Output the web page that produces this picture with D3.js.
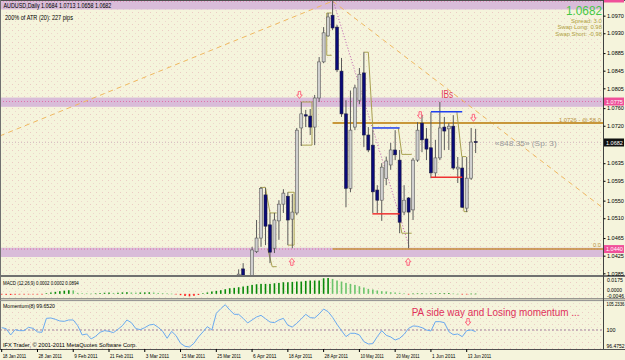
<!DOCTYPE html>
<html lang="en">
<head>
<meta charset="utf-8">
<title>AUDUSD Daily</title>
<script src="https://d3js.org/d3.v7.min.js"></script>
<style>
body { margin: 0; background: #f5f4dc; }
svg { display: block; font-family: "Liberation Sans", Arial, sans-serif; }
</style>
</head>
<body>
<div id="chart"></div>
<script>
// ---- data ----
var dateLabels = ["18 Jan 2011", "28 Jan 2011", "9 Feb 2011", "21 Feb 2011", "3 Mar 2011", "15 Mar 2011",
    "25 Mar 2011", "6 Apr 2011", "18 Apr 2011", "28 Apr 2011", "10 May 2011", "20 May 2011", "1 Jun 2011", "13 Jun 2011"];
var dateLabelBars = [0, 8, 16, 24, 32, 40, 48, 56, 64, 72, 80, 88, 96, 104];

// candles that show in the price window start at bar 53 (older ones sit below 1.0385)
var candleFirstBar = 53;
var opens  = [1.0355,1.0395,1.0368,1.0362,1.0434,1.0465,1.0563,1.0495,1.0442,1.0504,1.0542,1.0560,1.0508,1.0522,1.0715,1.0745,1.0742,1.0717,1.0783,1.0865,1.0924,1.0971,1.0944,1.0844,1.0747,1.0578,1.0717,1.0778,1.0840,1.0699,1.0676,1.0574,1.0551,1.0600,1.0631,1.0665,1.0642,1.0524,1.0556,1.0529,1.0642,1.0726,1.0690,1.0670,1.0613,1.0647,1.0717,1.0713,1.0719,1.0622,1.0624,1.0533,1.0601,1.0684];
var highs  = [1.0394,1.0408,1.0378,1.0445,1.0506,1.0581,1.0579,1.0522,1.0522,1.0551,1.0576,1.0569,1.0565,1.0715,1.0774,1.0756,1.0758,1.0790,1.0876,1.0944,1.0976,1.1012,1.0949,1.0874,1.0778,1.0800,1.0813,1.0851,1.0887,1.0717,1.0712,1.0585,1.0635,1.0650,1.0681,1.0710,1.0665,1.0585,1.0558,1.0647,1.0728,1.0744,1.0715,1.0751,1.0688,1.0774,1.0740,1.0726,1.0744,1.0649,1.0649,1.0649,1.0715,1.0713];
var lows   = [1.0340,1.0355,1.0322,1.0350,1.0431,1.0445,1.0449,1.0408,1.0431,1.0461,1.0522,1.0449,1.0442,1.0517,1.0674,1.0717,1.0699,1.0676,1.0774,1.0862,1.0922,1.0937,1.0842,1.0740,1.0535,1.0569,1.0710,1.0769,1.0672,1.0660,1.0522,1.0522,1.0504,1.0585,1.0620,1.0642,1.0476,1.0517,1.0442,1.0506,1.0638,1.0660,1.0642,1.0601,1.0603,1.0642,1.0665,1.0665,1.0620,1.0590,1.0533,1.0524,1.0597,1.0658];
var closes = [1.0383,1.0370,1.0360,1.0438,1.0465,1.0578,1.0492,1.0433,1.0506,1.0542,1.0567,1.0506,1.0524,1.0710,1.0747,1.0742,1.0717,1.0783,1.0865,1.0931,1.0967,1.0942,1.0847,1.0747,1.0578,1.0710,1.0806,1.0837,1.0699,1.0665,1.0570,1.0551,1.0626,1.0640,1.0665,1.0654,1.0501,1.0551,1.0524,1.0642,1.0710,1.0688,1.0667,1.0613,1.0647,1.0715,1.0708,1.0719,1.0624,1.0626,1.0535,1.0601,1.0683,1.0682];

var macdValues = [-0.0008,-0.0010,-0.0012,-0.0009,-0.0006,-0.0004,-0.0003,-0.0004,-0.0006,-0.0002,
    0.0007,0.0015,0.0022,0.0029,0.0035,0.0040,0.0038,0.0011,0.0006,0.0004,
    0.0003,0.0004,0.0008,0.0012,0.0014,0.0010,0.0012,0.0016,0.0018,0.0015,
    0.0013,0.0015,0.0016,0.0017,0.0014,0.0010,0.0008,0.0004,0.0002,-0.0006,
    -0.0015,-0.0024,-0.0028,-0.0022,-0.0012,0.0005,0.0015,0.0026,0.0033,0.0040,
    0.0051,0.0062,0.0066,0.0073,0.0081,0.0088,0.0099,0.0106,0.0110,0.0110,
    0.0110,0.0117,0.0121,0.0128,0.0128,0.0132,0.0136,0.0136,0.0143,0.0147,
    0.0147,0.0147,0.0172,0.0175,0.0165,0.0147,0.0136,0.0121,0.0110,0.0099,
    0.0084,0.0070,0.0055,0.0048,0.0037,0.0029,0.0026,0.0018,0.0015,0.0011,
    0.0004,-0.0005,0.0003,0.0004,0.0004,0.0003,0.0004,0.0005,0.0006,0.0007,
    0.0008,0.0003,0.0001,-0.0002,-0.0004,0.0002,0.0002];

var momentumValues = [100.48,100.28,98.97,100.07,99.86,99.86,100.55,100.34,99.59,99.52,
    102.41,102.48,102.21,101.86,101.79,102.07,102.07,100.90,98.97,99.17,
    98.14,98.69,99.52,99.86,99.72,99.45,100.14,100.90,102.07,101.52,
    100.28,100.07,100.48,101.03,101.17,100.55,99.72,98.28,99.72,98.83,
    97.24,96.62,96.48,97.24,98.55,99.59,100.69,100.00,103.45,104.41,
    105.23,104.14,103.24,103.24,102.41,101.45,102.07,102.69,103.03,102.34,
    101.65,101.52,102.07,102.41,100.97,100.62,101.38,102.28,103.24,102.55,
    102.48,103.31,104.34,103.79,102.62,101.17,99.86,98.62,99.31,99.31,
    98.97,97.59,97.10,97.17,98.62,99.86,98.90,98.55,97.93,98.28,
    99.10,100.34,100.83,100.76,100.48,100.00,99.79,101.72,101.72,101.52,
    99.65,99.03,99.17,98.62,99.86,100.00,99.65];

var priceTicks = [1.0970, 1.0930, 1.0885, 1.0845, 1.0805, 1.0760, 1.0720, 1.0635, 1.0595, 1.0550, 1.0510, 1.0465, 1.0425, 1.0385];
var macdTicks = ["0.0175", "0.0000", "-0.0046"];
var momentumTicks = [105.2336, 100, 96.4752];

// zones (price bands) and levels
var zoneTops    = [1.1003, 1.0784, 1.0443];
var zoneBottoms = [1.0984, 1.0763, 1.0422];
var zoneLines   = [1.1003, 1.0775, 1.0440];
var fibLevels   = [1.0726, 1.0440];
var fibLabels   = ["1.0726 - @ 58.0", "0.0"];
var fibStartBar = 74;

// trend lines [bar, price]
var dashTrendA = [[-0.4, 1.0697], [74, 1.1003]];
var dashTrendB = [[74, 1.1003], [134.5, 1.0533]];
var dotTrend   = [[74, 1.1008], [91.3, 1.0440]];

// inside bar highs / lows
var ibHighs = [[82.9, 89, 1.0715], [96, 103, 1.0752]];
var ibLows  = [[82.9, 89, 1.0520], [96, 103, 1.0603]];

// olive range lines [bar, price]
var oliveLines = [
    [[64, 1.0569], [65.4, 1.0569], [65.4, 1.0449], [64, 1.0449]],
    [[67, 1.0774], [69.4, 1.0774], [69.4, 1.0676], [67, 1.0676]],
    [[73.8, 1.0976], [72.7, 1.0976], [72.7, 1.0880], [73.8, 1.0880]],
    [[57.8, 1.0580], [59, 1.0580], [60, 1.0522], [61.5, 1.0522]],
    [[59.5, 1.0440], [60.5, 1.0400], [61.5, 1.0400]],
    [[81, 1.0887], [82, 1.0887], [83, 1.0715]],
    [[88.7, 1.0715], [89.5, 1.0655], [91.7, 1.0655]],
    [[88.7, 1.0520], [89.5, 1.0476], [91.7, 1.0476]],
    [[101.8, 1.0752], [102.9, 1.0650], [103.9, 1.0650]],
    [[102.6, 1.0604], [103.4, 1.0525], [104.2, 1.0525]]
];

var downArrows = [[66.6, 1.0790], [93.6, 1.0744], [105.5, 1.0738]];
var upArrows   = [[64.9, 1.0411], [90.9, 1.0411]];

// ---- layout ----
var W = 625, H = 360, axisX = 603;
var pricePane = {top: 0, bottom: 275};
var momPane = {top: 301, bottom: 349};

var svg = d3.select("#chart").append("svg")
    .attr("width", W).attr("height", H);

var defs = svg.append("defs");
var pat = defs.append("pattern").attr("id", "dots")
    .attr("width", 6).attr("height", 6).attr("patternUnits", "userSpaceOnUse");
pat.append("rect").attr("x", 0).attr("y", 0).attr("width", 1).attr("height", 1).attr("fill", "#eccac4");
pat.append("rect").attr("x", 3).attr("y", 3).attr("width", 1).attr("height", 1).attr("fill", "#eed6cc");

defs.append("clipPath").attr("id", "clipPrice").append("rect")
    .attr("x", 0).attr("y", pricePane.top).attr("width", axisX).attr("height", pricePane.bottom - pricePane.top);
defs.append("clipPath").attr("id", "clipMom").append("rect")
    .attr("x", 0).attr("y", momPane.top).attr("width", axisX).attr("height", momPane.bottom - momPane.top);

svg.append("rect").attr("width", W).attr("height", H).attr("fill", "#f5f4dc");
svg.append("rect").attr("width", axisX).attr("height", momPane.bottom).attr("fill", "url(#dots)");

// scales
var x = d3.scaleLinear().domain([0, 104]).range([1.7, 466.7]);
var y = d3.scaleLinear().domain([1.0385, 1.0845]).range([273.3, 70.7]);
var yMacd = d3.scaleLinear().domain([-0.0046, 0.0175]).range([298, 278]);
var yMom = d3.scaleLinear().domain([96.4752, 105.2336]).range([347, 304.7]);

// squeezed MT4 style text: squash the glyphs to the width measured on the picture
function label(g, str, px, py, size, width, color, anchor) {
    var t = g.append("text")
        .attr("font-size", size)
        .attr("fill", color)
        .text(str);
    var natural = t.node().getComputedTextLength();
    var k = width ? width / natural : 1;
    t.attr("x", anchor === "end" ? -natural : 0).attr("y", 0)
        .attr("transform", "translate(" + px + "," + py + ") scale(" + k + ",1)");
    return t;
}

// hollow block arrow, dir 1 = down, -1 = up
function arrow(g, px, py, dir) {
    var s = dir;
    var pts = [[-1.2, -3.5 * s], [1.2, -3.5 * s], [1.2, 0], [2.8, 0], [0, 3.5 * s], [-2.8, 0], [-1.2, 0]];
    g.append("path")
        .attr("d", d3.line()(pts.map(function (p) { return [px + p[0], py + p[1]]; })) + "Z")
        .attr("fill", "none").attr("stroke", "#ff5a78").attr("stroke-width", 0.9);
}

// ---- price window ----
var gp = svg.append("g").attr("clip-path", "url(#clipPrice)");

// zones
zoneTops.forEach(function (t, i) {
    gp.append("rect").attr("x", 0).attr("width", axisX)
        .attr("y", y(t)).attr("height", y(zoneBottoms[i]) - y(t))
        .attr("fill", "#d9bcd9");
    gp.append("line").attr("x1", 0).attr("x2", axisX)
        .attr("y1", y(zoneLines[i])).attr("y2", y(zoneLines[i]))
        .attr("stroke", "#e070a8").attr("stroke-width", 1).attr("stroke-dasharray", "1,2");
});

// current price dotted line
gp.append("line").attr("x1", 0).attr("x2", axisX)
    .attr("y1", y(closes[closes.length - 1])).attr("y2", y(closes[closes.length - 1]))
    .attr("stroke", "#d8c4c4").attr("stroke-dasharray", "1,2");

// dashed trend lines
var trendLine = d3.line().x(function (d) { return x(d[0]); }).y(function (d) { return y(d[1]); });
[dashTrendA, dashTrendB].forEach(function (t) {
    gp.append("path").attr("d", trendLine(t)).attr("fill", "none")
        .attr("stroke", "#f0b860").attr("stroke-width", 1).attr("stroke-dasharray", "5,4");
});
gp.append("path").attr("d", trendLine(dotTrend)).attr("fill", "none")
    .attr("stroke", "#c060b0").attr("stroke-width", 1).attr("stroke-dasharray", "1,2");

// fib levels
fibLevels.forEach(function (f, i) {
    gp.append("line").attr("x1", x(fibStartBar)).attr("x2", axisX)
        .attr("y1", y(f)).attr("y2", y(f))
        .attr("stroke", "#c8963a").attr("stroke-width", i === 0 ? 2 : 1.5);
});
label(gp, fibLabels[0], axisX - 2, y(fibLevels[0]) - 1.5, 6, 42, "#b89040", "end");
label(gp, fibLabels[1], axisX - 2, y(fibLevels[1]) - 2, 6, 8, "#b89040", "end");

// olive range lines
oliveLines.forEach(function (o) {
    gp.append("path").attr("d", trendLine(o)).attr("fill", "none")
        .attr("stroke", "#a8a050").attr("stroke-width", 1);
});

// candles
var candles = opens.map(function (o, i) {
    return {bar: candleFirstBar + i, o: o, h: highs[i], l: lows[i], c: closes[i]};
});
var cg = gp.selectAll(".candle").data(candles).enter().append("g").attr("class", "candle");
cg.append("line")
    .attr("x1", function (d) { return x(d.bar); }).attr("x2", function (d) { return x(d.bar); })
    .attr("y1", function (d) { return y(d.h); }).attr("y2", function (d) { return y(d.l); })
    .attr("stroke", "#5a5a5a").attr("stroke-width", 1);
cg.append("rect")
    .attr("x", function (d) { return x(d.bar) - 1.5; })
    .attr("width", 3)
    .attr("y", function (d) { return y(Math.max(d.o, d.c)); })
    .attr("height", function (d) { return Math.max(0.8, Math.abs(y(d.o) - y(d.c))); })
    .attr("fill", function (d) { return d.c >= d.o ? "#cfcfcf" : "#0a0a78"; })
    .attr("stroke", function (d) { return d.c >= d.o ? "#5a5a5a" : "#202040"; })
    .attr("stroke-width", 0.6);

// inside bar lines
ibHighs.forEach(function (b) {
    gp.append("line").attr("x1", x(b[0])).attr("x2", x(b[1])).attr("y1", y(b[2])).attr("y2", y(b[2]))
        .attr("stroke", "#1f3ff0").attr("stroke-width", 1.5);
});
ibLows.forEach(function (b) {
    gp.append("line").attr("x1", x(b[0])).attr("x2", x(b[1])).attr("y1", y(b[2])).attr("y2", y(b[2]))
        .attr("stroke", "#f03030").attr("stroke-width", 1.5);
});

// arrows
downArrows.forEach(function (a) { arrow(gp, x(a[0]), y(a[1]), 1); });
upArrows.forEach(function (a) { arrow(gp, x(a[0]), y(a[1]), -1); });
label(gp, "IBs", x(98.3), y(1.0792) + 3.5, 10, 12, "#e23a5c");
label(gp, "\u00AB848.35\u00BB (Sp: 3)", x(110.3), y(1.0682) + 4, 6.5, 62, "#9a9a9a");

// price window texts
label(svg, "AUDUSD,Daily  1.0684 1.0713 1.0658 1.0682", 3.5, 8, 7, 108, "#000");
label(svg, "200% of ATR (20):  227 pips", 5, 19.5, 6.5, 68, "#000");
label(svg, "1.0682", axisX - 1, 15, 13.5, 36, "#45c845", "end");
label(svg, "Spread: 3.0", axisX - 1, 22.5, 6, 31, "#b0a040", "end");
label(svg, "Swap Long: 0.98", axisX - 1, 29, 6, 44.5, "#b0a040", "end");
label(svg, "Swap Short: -0.98", axisX - 1, 35.5, 6, 46.7, "#b0a040", "end");

// ---- MACD window ----
var barW = 1.6;
svg.append("g").selectAll("rect").data(macdValues).enter().append("rect")
    .attr("x", function (d, i) { return x(i) - barW / 2; })
    .attr("width", barW)
    .attr("y", function (d) { return Math.min(yMacd(d), yMacd(0)); })
    .attr("height", function (d) { return Math.max(0.6, Math.abs(yMacd(d) - yMacd(0))); })
    .attr("fill", function (d, i) {
        if (d < 0) return "#ff2020";
        return (i > 0 && d < macdValues[i - 1]) ? "#6cc46c" : "#0a8a0a";
    });
label(svg, "MACD (12,26,9) 0.0002 0.0002 0.0894", 3, 284.5, 6, 76, "#000");

// ---- Momentum window ----
var gm = svg.append("g").attr("clip-path", "url(#clipMom)");
gm.append("line").attr("x1", 0).attr("x2", axisX).attr("y1", yMom(100)).attr("y2", yMom(100))
    .attr("stroke", "#a080a0").attr("stroke-dasharray", "2,2");
gm.append("path")
    .attr("d", d3.line().x(function (d, i) { return x(i); }).y(function (d) { return yMom(d); })(momentumValues))
    .attr("fill", "none").attr("stroke", "#6aaaf0").attr("stroke-width", 1);
label(svg, "Momentum(8) 99.6520", 3, 307.5, 6, 52, "#000");
label(svg, "IFX Trader, \u00A9 2001-2011 MetaQuotes Software Corp.", 3, 347, 6, 134, "#000");
label(svg, "PA side way and Losing momentum ...", x(91.7), yMom(103.58) + 3.5, 10.5, 168, "#e0305a");
arrow(svg, x(104.3), yMom(101.65), 1);

// ---- frames ----
var frame = svg.append("g").attr("fill", "none");
frame.append("line").attr("x1", 0).attr("x2", W).attr("y1", 0.5).attr("y2", 0.5).attr("stroke", "#505050");
frame.append("line").attr("x1", 0.5).attr("x2", 0.5).attr("y1", 0).attr("y2", momPane.bottom).attr("stroke", "#707070");
frame.append("line").attr("x1", 0).attr("x2", W).attr("y1", 276).attr("y2", 276).attr("stroke", "#707070").attr("stroke-width", 2);
frame.append("line").attr("x1", 0).attr("x2", W).attr("y1", 298.8).attr("y2", 298.8).attr("stroke", "#707070").attr("stroke-width", 1);
frame.append("line").attr("x1", 0).attr("x2", W).attr("y1", 300.6).attr("y2", 300.6).attr("stroke", "#909090").attr("stroke-width", 1);
frame.append("line").attr("x1", 0).attr("x2", W).attr("y1", momPane.bottom + 0.5).attr("y2", momPane.bottom + 0.5).attr("stroke", "#505050");
frame.append("line").attr("x1", axisX + 0.5).attr("x2", axisX + 0.5).attr("y1", 0).attr("y2", momPane.bottom).attr("stroke", "#404040");

// ---- axes ----
var priceAxis = d3.axisRight(y).tickValues(priceTicks).tickSize(2).tickFormat("");
var pa = svg.append("g").attr("transform", "translate(" + (axisX + 0.5) + ",0)").call(priceAxis);
pa.select(".domain").remove();
pa.selectAll("line").attr("stroke", "#000");
priceTicks.forEach(function (t) {
    label(svg, d3.format(".4f")(t), axisX + 4, y(t) + 2.2, 6, 17, "#000");
});

// level boxes on the axis (the top one is cut by the window edge)
svg.append("rect").attr("x", axisX + 1).attr("y", 0).attr("width", 20).attr("height", 2.5).attr("fill", "#f0509a");
var boxes = [[zoneLines[1], "1.0775", "#f0509a"], [closes[closes.length - 1], "1.0682", "#101010"], [zoneLines[2], "1.0440", "#f0509a"]];
boxes.forEach(function (b) {
    var by = y(b[0]);
    svg.append("rect").attr("x", axisX + 1).attr("y", by - 4).attr("width", 20).attr("height", 8).attr("fill", b[2]);
    label(svg, b[1], axisX + 3, by + 2.2, 6, 17, "#fff");
});

label(svg, macdTicks[0], axisX + 4, yMacd(0.0175) + 4, 6, 16, "#000");
label(svg, macdTicks[1], axisX + 4, yMacd(0) - 1.5, 5, 15, "#000");
label(svg, macdTicks[2], axisX + 4, yMacd(0) + 4, 5, 17, "#000");
momentumTicks.forEach(function (t) {
    var str = t === 100 ? "100" : d3.format(".4f")(t);
    var ty = t === 100 ? yMom(t) + 2 : (t > 100 ? yMom(t) + 1 : yMom(t) + 1.2);
    label(svg, str, axisX + 3.5, ty, 6, t === 100 ? 9 : 18, "#000");
});

var dateAxis = svg.append("g");
dateLabels.forEach(function (d, i) {
    var dx = x(dateLabelBars[i]);
    dateAxis.append("line").attr("x1", dx).attr("x2", dx).attr("y1", momPane.bottom).attr("y2", momPane.bottom + 3).attr("stroke", "#000");
    label(dateAxis, d, dx + 1, 357.5, 6, 23.5, "#000");
});
</script>
</body>
</html>
